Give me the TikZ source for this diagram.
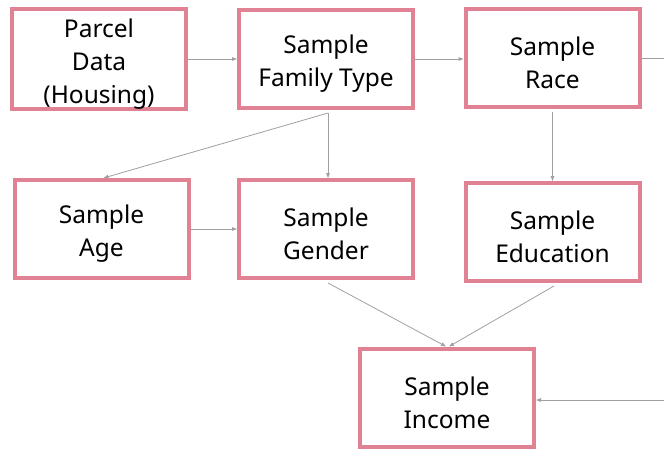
\documentclass[tikz,border=0pt]{standalone}
\usepackage{fontspec}
\setmainfont{Noto Sans}
\usetikzlibrary{arrows.meta}
\definecolor{boxpink}{RGB}{225,130,148}
\definecolor{linkgray}{RGB}{160,160,160}
% taller first line so the text block sits a little lower in its box
\newcommand\liftline{\rule{0pt}{28.5pt}}
\begin{document}
\begin{tikzpicture}[x=1pt,y=-1pt,
  stagebox/.style={draw=boxpink,line width=4pt,fill=white,minimum width=174pt,
    minimum height=98pt,align=center,inner sep=0pt,font=\fontsize{24.5}{33}\selectfont},
  link/.style={draw=linkgray,line width=0.8pt,-{Triangle[length=5pt,width=3.6pt]}}]
\useasboundingbox (0,0) rectangle (664,451);
\node[stagebox] (parcel) at (99,59) {\liftline Parcel\\Data\\(Housing)};
\node[stagebox] (family) at (326,59) {\liftline Sample\\Family Type};
\node[stagebox] (race) at (552.5,57.5) {\liftline Sample\\Race};
\node[stagebox] (age) at (101.5,229) {\liftline Sample\\Age};
\node[stagebox] (gender) at (326,229) {\liftline Sample\\Gender};
\node[stagebox] (edu) at (552.5,232) {\liftline Sample\\Education};
\node[stagebox] (income) at (447,397.5) {\liftline Sample\\Income};
\coordinate (raceout) at (664,58);
\coordinate (incomein) at (664,400);
\draw[link] (parcel.east) -- (family.east -| family.west);
\draw[link] (family) ++(88,0) -- (race.west |- 0,59);
\draw[draw=linkgray,line width=0.8pt] (race.east |- raceout) -- (raceout);
\draw[link] ([xshift=2pt,yshift=-3pt]family.south) -- ([xshift=2pt]age.north);
\draw[link] ([xshift=2pt,yshift=-3pt]family.south) -- ([xshift=2pt]family.south |- gender.north);
\draw[link] (age.east) -- (age.east -| gender.west);
\draw[link] ([yshift=-3pt]race.south) -- (edu.north);
\draw[link] ([xshift=2pt,yshift=-3pt]gender.south) -- ([xshift=-1pt]income.north);
\draw[link] ([xshift=1.5pt,yshift=-3pt]edu.south) -- ([xshift=2pt]income.north);
\draw[link] (incomein) -- (incomein -| income.east);
\end{tikzpicture}
\end{document}
